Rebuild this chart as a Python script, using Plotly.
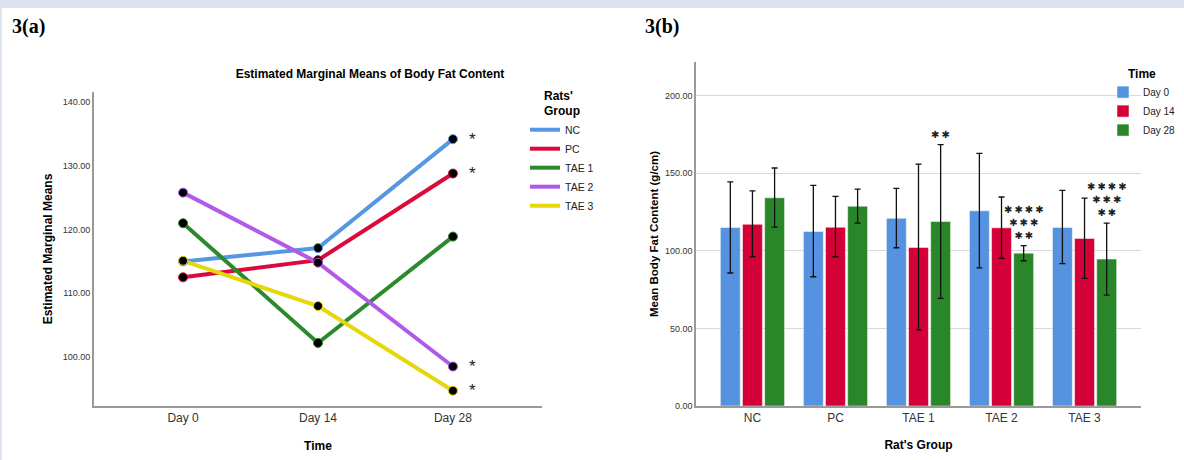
import plotly.graph_objects as go

# ---------------- data ----------------
days = ["Day 0", "Day 14", "Day 28"]
groups = ["NC", "PC", "TAE 1", "TAE 2", "TAE 3"]

# mean body fat content (g/cm) per time point, across rat groups
day0_means = [115.0, 112.5, 121.0, 125.8, 115.1]
day14_means = [117.1, 115.2, 102.2, 114.8, 108.0]
day28_means = [134.2, 128.8, 118.9, 98.5, 94.7]

# error bar bounds (panel b)
day0_upper = [144.5, 142.2, 140.3, 162.8, 139.0]
day0_lower = [85.7, 83.3, 102.0, 89.0, 91.7]
day14_upper = [138.7, 135.1, 155.9, 134.7, 134.0]
day14_lower = [96.2, 96.2, 49.0, 95.2, 82.3]
day28_upper = [153.4, 139.8, 168.4, 103.3, 117.9]
day28_lower = [115.3, 117.9, 69.4, 93.6, 71.5]

# significance marks
emm_stars = ["*", "*", "", "*", "*"]                       # panel a, at Day 28
bar_stars = [0, 0, 2, 4, 4]                                # panel b, Day 28 bars: top-row star count

group_colors = ["#5597e3", "#dc0a3c", "#2b8a2b", "#b05ae9", "#e6d60c"]
day_colors = ["#5592e0", "#d40038", "#2a8729"]

FONT = "Liberation Sans, Arial, sans-serif"
W, H = 1184, 460

fig = go.Figure()

# ---------------- panel (a): line chart ----------------
day_series = [day0_means, day14_means, day28_means]
for gi, g in enumerate(groups):
    series = [d[gi] for d in day_series]
    fig.add_trace(go.Scatter(
        x=days, y=series, mode="lines", name=g,
        line=dict(color=group_colors[gi], width=4),
        xaxis="x", yaxis="y", legend="legend", hoverinfo="skip"))
for gi, g in enumerate(groups):
    series = [d[gi] for d in day_series]
    fig.add_trace(go.Scatter(
        x=days, y=series, mode="markers", name=g, showlegend=False,
        marker=dict(color="black", size=9, line=dict(color=group_colors[gi], width=1)),
        xaxis="x", yaxis="y"))

annotations = []
for gi, s in enumerate(emm_stars):
    if s:
        annotations.append(dict(
            x=days[-1], y=day28_means[gi], xref="x", yref="y", text=s,
            showarrow=False, xshift=20, yshift=0,
            font=dict(family=FONT, size=17, color="#222")))

# ---------------- panel (b): grouped bars ----------------
bar_sets = [
    (days[0], day0_means, day0_upper, day0_lower),
    (days[1], day14_means, day14_upper, day14_lower),
    (days[2], day28_means, day28_upper, day28_lower),
]
for di, (name, m, up, lo) in enumerate(bar_sets):
    fig.add_trace(go.Bar(
        x=groups, y=m, name=name,
        marker=dict(color=day_colors[di], line=dict(color="rgba(255,255,255,0.5)", width=1)),
        error_y=dict(type="data", symmetric=False,
                     array=[u - v for u, v in zip(up, m)],
                     arrayminus=[v - l for v, l in zip(m, lo)],
                     color="#111", thickness=1.3, width=3),
        xaxis="x2", yaxis="y2", legend="legend2"))

bargap = 0.2
slot = (1 - bargap) / 3
STAR = "\u2731"
for gi, n in enumerate(bar_stars):
    if n:
        rows = ["\u2009".join([STAR] * k) for k in range(n, 1, -1)]
        annotations.append(dict(
            x=gi + slot, y=day28_upper[gi], xref="x2", yref="y2",
            text="<br>".join(rows),
            showarrow=False, yanchor="bottom", yshift=3,
            font=dict(family="DejaVu Sans, sans-serif", size=10, color="#222")))

# panel labels
annotations += [
    dict(x=10 / W, y=1 - 27 / H, xref="paper", yref="paper", text="<b>3(a)</b>",
         showarrow=False, xanchor="left", yanchor="middle",
         font=dict(family="Liberation Serif, Times New Roman, serif", size=20, color="black")),
    dict(x=643 / W, y=1 - 27 / H, xref="paper", yref="paper", text="<b>3(b)</b>",
         showarrow=False, xanchor="left", yanchor="middle",
         font=dict(family="Liberation Serif, Times New Roman, serif", size=20, color="black")),
]

axis_line = "#9a9a9a"
tick_font_small = dict(family=FONT, size=9, color="#333")
tick_font_cat = dict(family=FONT, size=12, color="#333")
title_font = dict(family=FONT, size=12, color="black")

fig.update_layout(
    width=W, height=H, autosize=False,
    margin=dict(l=0, r=0, t=0, b=0, autoexpand=False),
    paper_bgcolor="white", plot_bgcolor="white",
    font=dict(family=FONT, color="#222"),
    title=dict(text="<b>Estimated Marginal Means of Body Fat Content</b>",
               x=370 / W, y=1 - 74 / H, xanchor="center", yanchor="middle",
               font=dict(family=FONT, size=12, color="black")),
    xaxis=dict(domain=[94 / W, 542 / W], type="category", range=[-0.66, 2.66],
               showline=True, linecolor=axis_line, linewidth=1.5, showgrid=False,
               ticks="", tickfont=tick_font_cat, automargin=False,
               title=dict(text="<b>Time</b>", font=title_font, standoff=17),
               anchor="y", fixedrange=True),
    yaxis=dict(domain=[1 - 406 / H, 1 - 92 / H], range=[92.3, 141.6],
               tickvals=[100, 110, 120, 130, 140], tickformat=".2f",
               showline=True, linecolor=axis_line, linewidth=2, showgrid=False,
               zeroline=False, ticks="", tickfont=tick_font_small, automargin=False,
               title=dict(text="<b>Estimated Marginal Means</b>", font=title_font, standoff=7),
               anchor="x", fixedrange=True),
    xaxis2=dict(domain=[696 / W, 1141 / W], type="category", range=[-0.68, 4.68],
                showline=True, linecolor=axis_line, linewidth=1.5, showgrid=False,
                ticks="", tickfont=tick_font_cat, automargin=False,
                title=dict(text="<b>Rat's Group</b>", font=title_font, standoff=16),
                anchor="y2", fixedrange=True),
    yaxis2=dict(domain=[1 - 406 / H, 1 - 62 / H], range=[0, 221.7],
                tickvals=[0, 50, 100, 150, 200], tickformat=".2f",
                showline=True, linecolor=axis_line, linewidth=1.5,
                showgrid=True, gridcolor="#d8d8d8", gridwidth=1,
                zeroline=False, ticks="", tickfont=tick_font_small, automargin=False,
                title=dict(text="<b>Mean Body Fat Content (g/cm)</b>",
                           font=dict(family=FONT, size=11.5, color="black"), standoff=4),
                anchor="x2", fixedrange=True),
    barmode="group", bargap=bargap, bargroupgap=0.1,
    legend=dict(x=525 / W, y=1 - 84 / H, xanchor="left", yanchor="top",
                bgcolor="rgba(0,0,0,0)",
                title=dict(text="<b>Rats'<br>Group</b>", side="top center",
                           font=dict(family=FONT, size=12, color="black")),
                font=dict(family=FONT, size=10.5, color="#222")),
    legend2=dict(x=1103 / W, y=1 - 62 / H, xanchor="left", yanchor="top",
                 bgcolor="rgba(0,0,0,0)",
                 title=dict(text="<b>Time</b>", side="top center",
                            font=dict(family=FONT, size=12, color="black")),
                 font=dict(family=FONT, size=10, color="#222")),
    annotations=annotations,
    shapes=[
        dict(type="rect", xref="paper", yref="paper", x0=0, x1=1, y0=1 - 8 / H, y1=1,
             fillcolor="#dde2f0", line=dict(width=0), layer="above"),
        dict(type="rect", xref="paper", yref="paper", x0=0, x1=2 / W, y0=0, y1=1,
             fillcolor="#dde2f0", line=dict(width=0), layer="above"),
    ],
)

post = (
    "document.body.style.margin='0';"
    "document.body.style.overflow='hidden';"
    "document.documentElement.style.overflow='hidden';"
)
fig.write_html("out.html", config={"displayModeBar": False, "responsive": False},
               post_script=post)
